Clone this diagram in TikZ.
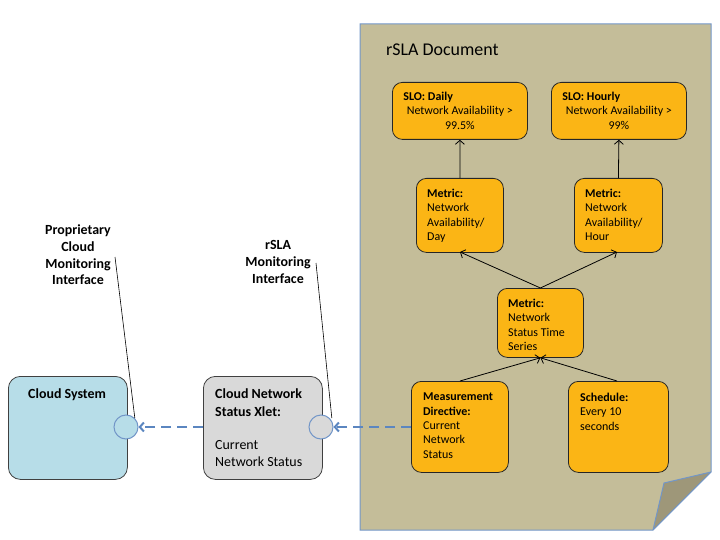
\documentclass[tikz,border=0pt]{standalone}
\usepackage{fontspec}
\setmainfont{Carlito}
\usetikzlibrary{arrows.meta}
\definecolor{paper}{HTML}{C4BD99}
\definecolor{flap}{HTML}{9E9779}
\definecolor{pageline}{HTML}{7296C8}
\definecolor{orangebox}{HTML}{FBB515}
\definecolor{bluebox}{HTML}{B7DDE8}
\definecolor{greybox}{HTML}{D9D9D9}
\definecolor{dashblue}{HTML}{5B86C0}
\tikzset{
  obox/.style={draw=black!85, fill=orangebox, rounded corners=10bp, line width=0.8bp, anchor=north west, inner sep=0},
  sbox/.style={draw=black!75, rounded corners=12bp, line width=0.8bp, anchor=north west, inner sep=0},
  otxt/.style={anchor=north west, inner sep=0, font=\fontsize{12}{14.4}\selectfont, align=left},
  stxt/.style={anchor=north west, inner sep=0, font=\fontsize{14}{17.3}\selectfont, align=left},
  ctxt/.style={inner sep=0, font=\bfseries\fontsize{14}{16.8}\selectfont, align=center},
  port/.style={circle, draw=pageline, line width=1bp, minimum size=24bp, inner sep=0},
  arr/.style={-{Straight Barb[length=4bp,width=9bp]}, line width=0.8bp, black},
  darr/.style={dashed, dash pattern=on 10bp off 6bp, line width=2bp, dashblue, -{Straight Barb[length=4bp,width=9bp]}},
  callout/.style={black, line width=0.6bp}
}
\begin{document}
\begin{tikzpicture}[x=1bp,y=-1bp]
\useasboundingbox (0,0) rectangle (720,540);
% page
\draw[pageline, fill=paper, line width=1bp] (360,24) -- (711,24) -- (711,472) -- (653,530) -- (360,530) -- cycle;
\draw[pageline, fill=flap, line width=1bp, line join=round] (711,472) -- (664,483) -- (653,530) -- cycle;
\node[anchor=west, inner sep=0, font=\fontsize{18}{20}\selectfont] (title) at (386,50) {rSLA Document};
% SLO boxes
\node[obox, minimum width=135bp, minimum height=57bp] (slod) at (392,82) {};
\node[anchor=north, inner sep=0, font=\fontsize{12}{14.4}\selectfont, align=center] (slodt) at ([yshift=-10bp]slod.north)
  {\makebox[113bp][l]{\textbf{SLO: Daily}}\\Network Availability >\\99.5\%};
\node[obox, minimum width=135bp, minimum height=57bp] (sloh) at (551,82) {};
\node[anchor=north, inner sep=0, font=\fontsize{12}{14.4}\selectfont, align=center] (sloht) at ([yshift=-10bp]sloh.north)
  {\makebox[113bp][l]{\textbf{SLO: Hourly}}\\Network Availability >\\99\%};
% metric boxes
\node[obox, minimum width=87bp, minimum height=74bp] (md) at (416,178) {};
\node[otxt] (mdt) at ([shift={(11bp,-11bp)}]md.north west) {\textbf{Metric:}\\Network\\Availability/\\Day};
\node[obox, minimum width=88bp, minimum height=74bp] (mh) at (574,178) {};
\node[otxt] (mht) at ([shift={(11bp,-11bp)}]mh.north west) {\textbf{Metric:}\\Network\\Availability/\\Hour};
\node[obox, minimum width=86bp, minimum height=69bp] (ts) at (497,288) {};
\node[otxt] (tst) at ([shift={(11bp,-11bp)}]ts.north west) {\textbf{Metric:}\\Network\\Status Time\\Series};
\node[obox, minimum width=97bp, minimum height=91bp] (mdir) at (411,381) {};
\node[otxt] (mdirt) at ([shift={(12bp,-12bp)}]mdir.north west) {\textbf{Measurement}\\\textbf{Directive:}\\Current\\Network\\Status};
\node[obox, minimum width=100bp, minimum height=91bp] (sch) at (568,381) {};
\node[otxt] (scht) at ([shift={(12bp,-12bp)}]sch.north west) {\textbf{Schedule:}\\Every 10\\seconds};
% arrows in document
\draw[arr] (md.north) -- (slod.south);
\draw[arr] (mh.north) -- (sloh.south);
\draw[arr] (ts.north) -- (460,252);
\draw[arr] (ts.north) -- (617,252);
\draw[arr] (460,381) -- (ts.south);
\draw[arr] (617,381) -- (ts.south);
% left boxes
\node[sbox, fill=bluebox, minimum width=119bp, minimum height=103bp] (cs) at (8,376) {};
\node[stxt] (cst) at ([shift={(20bp,-13bp)}]cs.north west) {\textbf{Cloud System}};
\node[sbox, fill=greybox, minimum width=119bp, minimum height=103bp] (xl) at (203,376) {};
\node[stxt] (xlt) at ([shift={(12bp,-13bp)}]xl.north west) {\textbf{Cloud Network}\\\textbf{Status Xlet:}\\[16bp]Current\\Network Status};
% ports
\node[port, fill=bluebox] (p1) at (126,427) {};
\node[port, fill=greybox] (p2) at (321,427) {};
% dashed arrows
\draw[darr] (xl.west |- p1) -- (p1.east);
\draw[darr] (mdir.west |- p2) -- (p2.east);
% callouts
\node[ctxt] (c1) at (78,255) {Proprietary\\Cloud\\Monitoring\\Interface};
\node[ctxt] (c2) at (278,262) {rSLA\\Monitoring\\Interface};
\coordinate (c1a) at (115,257);
\coordinate (c2a) at (316,263);
\draw[callout] (c1a) -- (p1.north east);
\draw[callout] (c2a) -- ([xshift=2bp]p2.north east);
\end{tikzpicture}
\end{document}
